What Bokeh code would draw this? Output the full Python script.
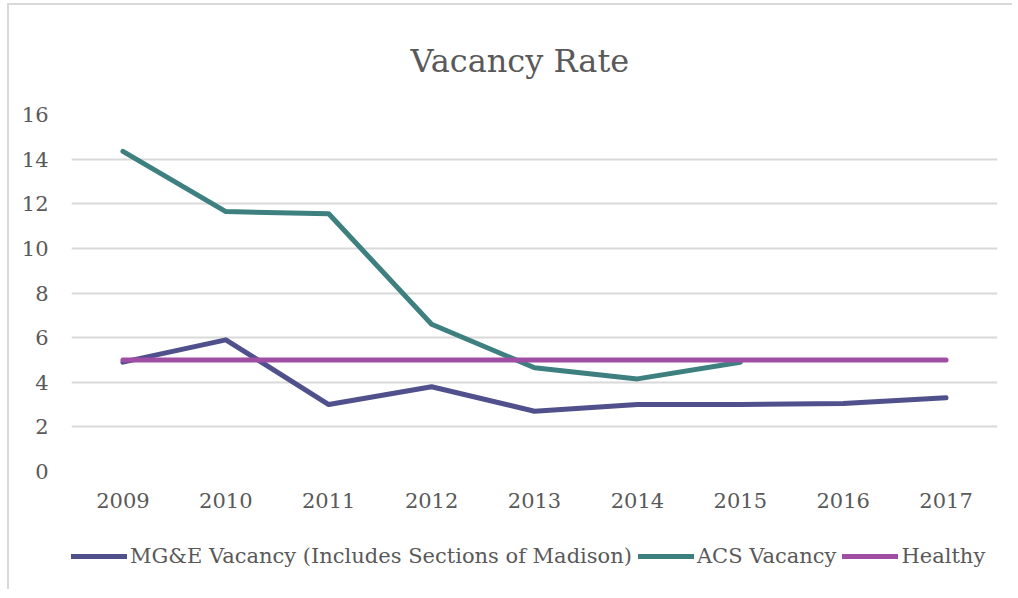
from bokeh.plotting import figure
from bokeh.layouts import column
from bokeh.models import FactorRange, Range1d, Legend, LegendItem, FixedTicker, ColumnDataSource
from bokeh.embed import file_html
from bokeh.resources import INLINE

years = ["2009", "2010", "2011", "2012", "2013", "2014", "2015", "2016", "2017"]
mge_vacancy = [4.9, 5.9, 3.0, 3.8, 2.7, 3.0, 3.0, 3.05, 3.3]
acs_vacancy = [14.35, 11.65, 11.55, 6.6, 4.65, 4.15, 4.9, float("nan"), float("nan")]
healthy = [5, 5, 5, 5, 5, 5, 5, 5, 5]
y_ticks = [0, 2, 4, 6, 8, 10, 12, 14, 16]

series_names = ["MG&E Vacancy (Includes Sections of Madison)", "ACS Vacancy", "Healthy"]
colors = ["#50508C", "#3E8080", "#A04DA4"]

FONT = "DejaVu Serif"
TXT = "#595959"

src = ColumnDataSource(dict(x=years, mge=mge_vacancy, acs=acs_vacancy, healthy=healthy))

p = figure(width=1005, height=526, x_range=FactorRange(factors=years),
           y_range=Range1d(0, 16), output_backend="svg", toolbar_location=None,
           min_border_left=62, min_border_right=17, min_border_top=106, min_border_bottom=60)

p.styles = {"margin-left": "7px", "margin-top": "3px",
            "border-left": "2px solid #d9d9d9", "border-top": "2px solid #d9d9d9"}

p.title.text = "Vacancy Rate"
p.title.align = "left"
p.title.offset = 339
p.title.text_font = FONT
p.title.text_font_size = "32px"
p.title.text_font_style = "normal"
p.title.text_color = TXT
p.title.standoff = 69

p.outline_line_color = None
p.xgrid.grid_line_color = None
p.ygrid.grid_line_color = "#d9d9d9"
p.ygrid.grid_line_width = 2
p.yaxis.ticker = FixedTicker(ticks=y_ticks)

for ax in (p.xaxis, p.yaxis):
    ax.axis_line_color = None
    ax.major_tick_line_color = None
    ax.minor_tick_line_color = None
    ax.major_label_text_font = FONT
    ax.major_label_text_font_size = "21px"
    ax.major_label_text_color = TXT
p.xaxis.major_label_standoff = 15
p.yaxis.major_label_standoff = 17

line_kw = dict(line_width=5, line_cap="round", line_join="round")
p.line("x", "mge", source=src, line_color=colors[0], **line_kw)
p.line("x", "acs", source=src, line_color=colors[1], **line_kw)
p.line("x", "healthy", source=src, line_color=colors[2], **line_kw)

# legend strip below the chart (its own series are kept out of view; only the legend shows)
p2 = figure(width=1005, height=60, x_range=FactorRange(factors=years), y_range=Range1d(100, 101),
            output_backend="svg", toolbar_location=None, x_axis_type=None, y_axis_type=None,
            min_border=0)
p2.styles = {"margin-left": "7px", "border-left": "2px solid #d9d9d9"}
p2.outline_line_color = None
p2.grid.grid_line_color = None
keys = [p2.line("x", col, source=src, line_color=c, **line_kw)
        for col, c in zip(["mge", "acs", "healthy"], colors)]

legend = Legend(items=[LegendItem(label=n, renderers=[k]) for n, k in zip(series_names, keys)],
                orientation="horizontal", location=(0, 21),
                label_text_font=FONT, label_text_font_size="21px", label_text_color=TXT,
                glyph_width=56, glyph_height=20, label_standoff=3, spacing=6,
                padding=0, margin=0, border_line_color=None, background_fill_alpha=0)
p2.add_layout(legend)

layout = column(p, p2, spacing=0)
open("out.html", "w").write(file_html(layout, INLINE))
